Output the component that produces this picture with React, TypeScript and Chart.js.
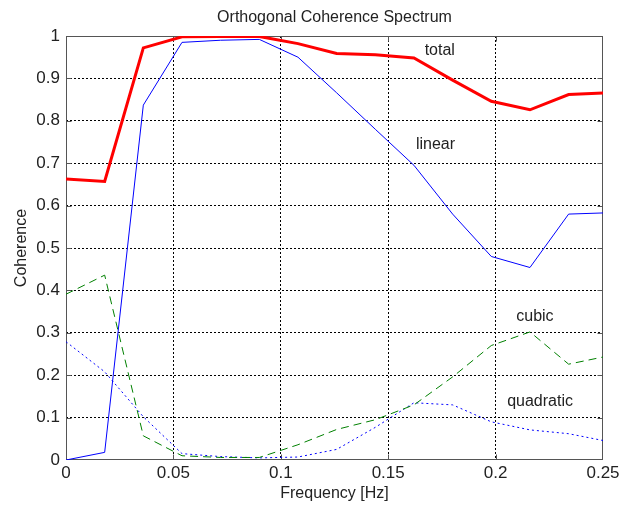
import React, { useEffect, useRef } from 'react';
import { Chart, registerables } from 'chart.js';

Chart.register(...registerables);

// Frequency grid (Hz)
const frequencies = [0, 0.018, 0.036, 0.054, 0.072, 0.09, 0.108, 0.126, 0.144, 0.162, 0.18, 0.198, 0.216, 0.234, 0.252];

// Coherence series
const totalCoh = [0.663, 0.657, 0.972, 0.998, 0.999, 0.999, 0.982, 0.959, 0.956, 0.948, 0.896, 0.846, 0.826, 0.862, 0.866];
const linearCoh = [0.0, 0.018, 0.837, 0.985, 0.99, 0.992, 0.95, 0.866, 0.78, 0.695, 0.58, 0.48, 0.454, 0.58, 0.583];
const cubicCoh = [0.391, 0.436, 0.057, 0.01, 0.006, 0.006, 0.036, 0.072, 0.095, 0.13, 0.196, 0.27, 0.302, 0.226, 0.245];
const quadraticCoh = [0.279, 0.208, 0.102, 0.015, 0.008, 0.005, 0.007, 0.025, 0.077, 0.135, 0.13, 0.09, 0.071, 0.062, 0.044];

// Axis tick values
const xTicks = [0, 0.05, 0.1, 0.15, 0.2, 0.25];
const yTicks = [0, 0.1, 0.2, 0.3, 0.4, 0.5, 0.6, 0.7, 0.8, 0.9, 1];

// In-plot curve labels (text + anchor in data coordinates)
const curveLabelText = ['total', 'linear', 'cubic', 'quadratic'];
const curveLabelFreq = [0.174, 0.172, 0.2183, 0.2207];
const curveLabelCoh = [0.965, 0.745, 0.338, 0.1375];

const TITLE = 'Orthogonal Coherence Spectrum';
const FONT = "'Liberation Sans', Arial, Helvetica, sans-serif";
const TEXT = '#222222';
const FRAME = '#555555';

const toXY = (ys: number[]) => ys.map((y, i) => ({ x: frequencies[i], y }));
const fmt = (v: number) => String(+Number(v).toFixed(2));

export default function App() {
  const ref = useRef<HTMLCanvasElement>(null);

  useEffect(() => {
    document.body.style.margin = '0';
    const xMax = xTicks[xTicks.length - 1];
    const yMax = yTicks[yTicks.length - 1];

    const framePlugin = {
      id: 'frame',
      beforeDatasetsDraw(chart: any) {
        const { ctx, chartArea, scales } = chart;
        const l = Math.round(chartArea.left) + 0.5;
        const t = Math.round(chartArea.top) + 0.5;
        const r = Math.round(chartArea.right) - 0.5;
        const b = Math.round(chartArea.bottom) - 0.5;
        ctx.save();
        ctx.strokeStyle = FRAME;
        ctx.lineWidth = 1;
        ctx.setLineDash([]);
        ctx.strokeRect(l, t, r - l, b - t);
        const tl = 5;
        ctx.beginPath();
        xTicks.slice(1, -1).forEach((v) => {
          const px = Math.round(scales.x.getPixelForValue(v)) + 0.5;
          ctx.moveTo(px, b); ctx.lineTo(px, b - tl);
          ctx.moveTo(px, t); ctx.lineTo(px, t + tl);
        });
        yTicks.slice(1, -1).forEach((v) => {
          const py = Math.round(scales.y.getPixelForValue(v)) + 0.5;
          ctx.moveTo(l, py); ctx.lineTo(l + tl, py);
          ctx.moveTo(r, py); ctx.lineTo(r - tl, py);
        });
        ctx.stroke();
        ctx.restore();
      },
    };

    const textPlugin = {
      id: 'texts',
      afterDatasetsDraw(chart: any) {
        const { ctx, scales, chartArea } = chart;
        ctx.save();
        ctx.fillStyle = TEXT;
        ctx.textAlign = 'center';
        ctx.textBaseline = 'middle';
        ctx.font = `16px ${FONT}`;
        ctx.fillText(TITLE, (chartArea.left + chartArea.right) / 2, 17.5);
        curveLabelText.forEach((txt, i) => {
          ctx.fillText(txt, scales.x.getPixelForValue(curveLabelFreq[i]), scales.y.getPixelForValue(curveLabelCoh[i]));
        });
        ctx.restore();
      },
    };

    const gridColor = (max: number) => (c: any) => {
      const v = c.tick ? c.tick.value : NaN;
      if (Math.abs(v) < 1e-9 || Math.abs(v - max) < 1e-9) return 'rgba(0,0,0,0)';
      return '#000000';
    };

    const chart = new Chart(ref.current!, {
      type: 'line',
      data: {
        datasets: [
          { label: 'total', data: toXY(totalCoh), borderColor: '#ff0000', borderWidth: 3, pointRadius: 0, tension: 0, fill: false },
          { label: 'linear', data: toXY(linearCoh), borderColor: '#0000ff', borderWidth: 1, pointRadius: 0, tension: 0, fill: false },
          { label: 'cubic', data: toXY(cubicCoh), borderColor: '#008000', borderWidth: 1, borderDash: [8, 5], pointRadius: 0, tension: 0, fill: false },
          { label: 'quadratic', data: toXY(quadraticCoh), borderColor: '#0000ff', borderWidth: 1, borderDash: [2, 3], pointRadius: 0, tension: 0, fill: false },
        ],
      },
      options: {
        responsive: false,
        devicePixelRatio: 1,
        animation: false,
        layout: { padding: { left: 0, right: 29, top: 36, bottom: 0 } },
        plugins: {
          legend: { display: false },
          tooltip: { enabled: false },
          title: { display: false },
        },
        scales: {
          x: {
            type: 'linear',
            min: xTicks[0],
            max: xMax,
            afterBuildTicks: (s: any) => { s.ticks = xTicks.map((v) => ({ value: v })); },
            afterFit: (s: any) => { s.height = 48; },
            ticks: { callback: (v: any) => fmt(v), color: TEXT, font: { family: FONT, size: 17 }, padding: 3, maxRotation: 0, autoSkip: false },
            grid: { color: gridColor(xMax), lineWidth: 1, drawTicks: false },
            border: { display: false, dash: [2, 2] },
            title: { display: true, text: 'Frequency [Hz]', color: TEXT, font: { family: FONT, size: 16 }, padding: { top: 0, bottom: 4.4 } },
          },
          y: {
            type: 'linear',
            min: yTicks[0],
            max: yMax,
            afterBuildTicks: (s: any) => { s.ticks = yTicks.map((v) => ({ value: v })); },
            afterFit: (s: any) => { s.width = 66; },
            ticks: { callback: (v: any) => fmt(v), color: TEXT, font: { family: FONT, size: 17 }, padding: 6, autoSkip: false },
            grid: { color: gridColor(yMax), lineWidth: 1, drawTicks: false },
            border: { display: false, dash: [2, 2] },
            title: { display: true, text: 'Coherence', color: TEXT, font: { family: FONT, size: 16 }, padding: { top: 12.4, bottom: 0 } },
          },
        },
      },
      plugins: [framePlugin, textPlugin],
    } as any);

    return () => chart.destroy();
  }, []);

  return <canvas ref={ref} width={632} height={508} style={{ display: 'block', width: 632, height: 508 }} />;
}
